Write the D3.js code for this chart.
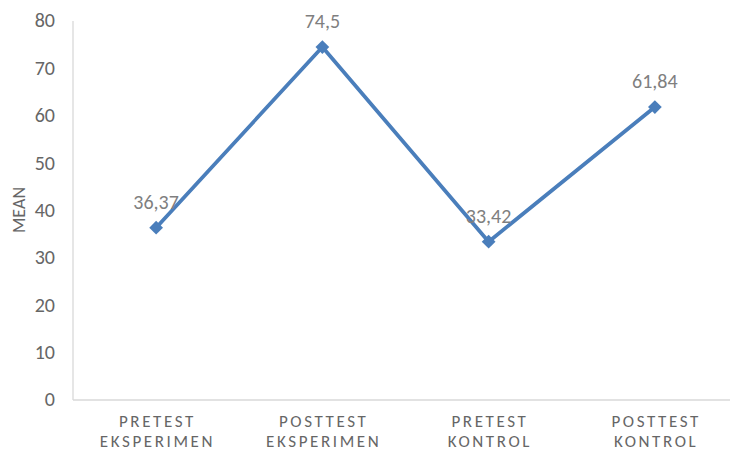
<!DOCTYPE html>
<html><head><meta charset="utf-8">
<script src="https://cdn.jsdelivr.net/npm/d3@7"></script>
<style>body{margin:0;background:#fff;}svg{display:block;font-family:Calibri,Carlito,Lato,"Liberation Sans",sans-serif;}</style>
</head><body><svg id="c" width="730" height="451"></svg>
<script>
const categories = [["PRETEST","EKSPERIMEN"],["POSTTEST","EKSPERIMEN"],["PRETEST","KONTROL"],["POSTTEST","KONTROL"]];
const values = [36.37, 74.5, 33.42, 61.84];
const valueLabels = ["36,37","74,5","33,42","61,84"];
const yTicks = [0,10,20,30,40,50,60,70,80];

(function(){
const svg = d3.select("#c");
const mLeft = 73, mRight = 738, mTop = 21, mBottom = 400;
const x = d3.scaleBand().domain(d3.range(categories.length)).range([mLeft, mRight]);
const y = d3.scaleLinear().domain([0, 80]).range([mBottom, mTop]);
const grey = "#666666";

svg.append("line").attr("x1", mLeft).attr("x2", mLeft).attr("y1", mTop).attr("y2", mBottom).attr("stroke", "#d9d9d9").attr("stroke-width", 1.3);
svg.append("line").attr("x1", mLeft).attr("x2", 730).attr("y1", mBottom).attr("y2", mBottom).attr("stroke", "#d9d9d9").attr("stroke-width", 1.3);

svg.selectAll(".yt").data(yTicks).enter().append("text")
  .attr("x", 55).attr("y", d => y(d)).attr("dy", "0.32em")
  .attr("text-anchor", "end").attr("fill", grey).attr("font-size", 20).text(d => d);

svg.append("text").attr("transform", "translate(25,210) rotate(-90)")
  .attr("text-anchor", "middle").attr("fill", grey).attr("font-size", 18).text("MEAN");

const cx = i => x(i) + x.bandwidth()/2;
const ls = 2.6;
categories.forEach((c, i) => {
  c.forEach((line, j) => {
    svg.append("text").attr("x", cx(i) + ls/2).attr("y", 427 + j*20)
      .attr("text-anchor", "middle").attr("fill", grey).attr("font-size", 17)
      .attr("letter-spacing", ls + "px").text(line);
  });
});

const lineGen = d3.line().x((d, i) => cx(i)).y(d => y(d));
svg.append("path").datum(values).attr("d", lineGen).attr("fill", "none")
  .attr("stroke", "#4a7ebb").attr("stroke-width", 3.75).attr("stroke-linejoin", "round");

svg.selectAll(".m").data(values).enter().append("path")
  .attr("d", d3.symbol().type(d3.symbolDiamond2).size(120))
  .attr("transform", (d, i) => "translate(" + cx(i) + "," + y(d) + ")")
  .attr("fill", "#4a7ebb");

svg.selectAll(".vl").data(values).enter().append("text")
  .attr("x", (d, i) => cx(i)).attr("y", d => y(d) - 19)
  .attr("text-anchor", "middle").attr("fill", "#7f7f7f").attr("font-size", 20)
  .text((d, i) => valueLabels[i]);
})();
</script></body></html>
